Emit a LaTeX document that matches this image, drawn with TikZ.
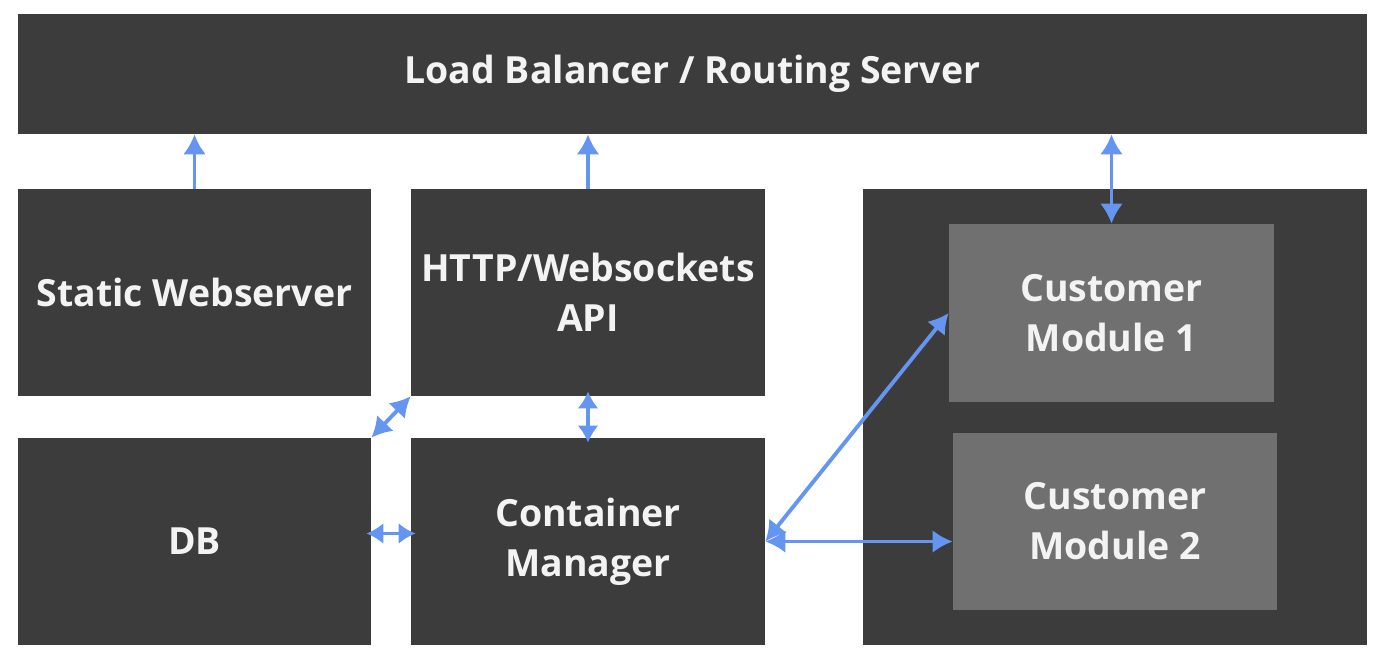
\documentclass[tikz,border=0pt]{standalone}
\usepackage{xcolor}
\usepackage{fontspec}
\setmainfont{Open Sans}
\usepackage{tikz}
\usetikzlibrary{arrows.meta,positioning}

\definecolor{boxdark}{RGB}{59,60,59}
\definecolor{boxgrey}{RGB}{111,112,111}
\definecolor{linkblue}{RGB}{100,149,240}
\definecolor{boxtext}{RGB}{243,243,243}

\begin{document}
\begin{tikzpicture}[x=0.02cm,y=-0.02cm,
        block/.style={fill=boxdark, text=boxtext, align=center, inner sep=0pt,
            font=\fontsize{21.3}{28.5}\selectfont\bfseries},
        module/.style={block, fill=boxgrey},
        link/.style={draw=linkblue, line width=2.2pt,
            {Latex[length=0.4cm,width=0.46cm]}-{Latex[length=0.4cm,width=0.46cm]}},
        shortlink/.style={draw=linkblue, line width=2.2pt, shorten <=-0.1cm, shorten >=-0.1cm,
            {Latex[length=0.34cm,width=0.42cm]}-{Latex[length=0.34cm,width=0.42cm]}},
        uplink/.style={link, -{Latex[length=0.4cm,width=0.46cm]}}]
        \useasboundingbox (0,0) rectangle (1388,670);

        \node[block, minimum width=26.98cm, minimum height=2.4cm] (lb) at (692.5,74) {Load Balancer / Routing Server} ;

        \node[block, minimum width=7.06cm, minimum height=4.14cm] (st) at (194.5,292.5) {Static Webserver} ;
        \node[block, minimum width=7.08cm, minimum height=4.14cm] (api) at (588,292.5) {HTTP/Websockets\\API} ;

        \node[block, minimum width=7.06cm, minimum height=4.14cm] (db) at (194.5,541.5) {DB} ;
        \node[block, minimum width=7.08cm, minimum height=4.14cm] (cm) at (588,541.5) {Container\\Manager} ;

        \node[block, minimum width=10.08cm, minimum height=9.12cm] (cust) at (1115,417) {} ;
        \node[module, minimum width=6.5cm, minimum height=3.56cm] (cm1) at (1111.5,313) {Customer\\Module 1} ;
        \node[module, minimum width=6.48cm, minimum height=3.54cm] (cm2) at (1115,521.5) {Customer\\Module 2} ;

        \draw[uplink] (st.north) -- (st.north |- lb.south) ;
        \draw[uplink] (api.north) -- (api.north |- lb.south) ;
        \draw[link] (cm1.north |- lb.south) -- (cm1.north) ;
        \draw[shortlink] (api.south) -- (cm.north) ;
        \draw[link] (db.north east) -- (api.south west) ;
        \draw[shortlink] ([yshift=0.16cm]db.east) -- ([yshift=0.16cm]cm.west) ;
        \draw[link] (cm.east) -- (cm1.west) ;
        \draw[link] (cm.east) -- (cm.east -| cm2.west) ;
    \end{tikzpicture}
\end{document}
